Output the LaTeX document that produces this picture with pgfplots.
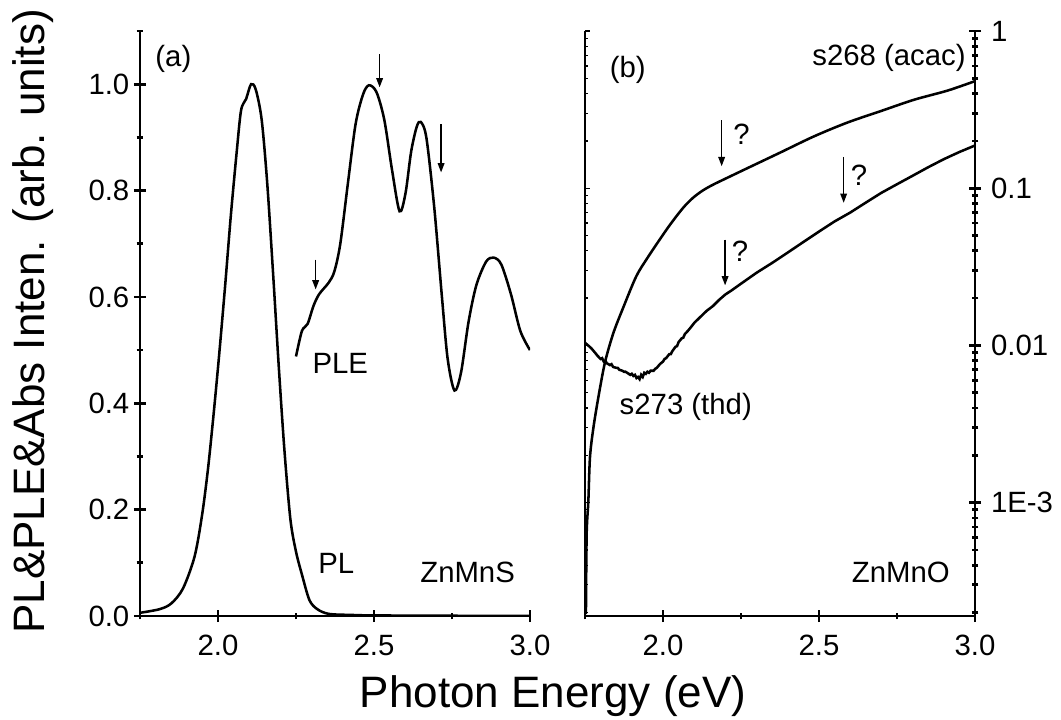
\documentclass[border=0pt]{standalone}
\usepackage{fontspec}
\setmainfont{Liberation Sans}
\usepackage{pgfplots}
\pgfplotsset{compat=1.18}
\usetikzlibrary{arrows.meta}

\newcommand{\lblfont}{\fontsize{22}{26}\selectfont}
\newcommand{\tckfont}{\fontsize{22}{26}\selectfont}
\newcommand{\axfont}{\fontsize{33}{40}\selectfont}

\tikzset{arr/.style={-{Triangle[length=7pt,width=5pt]}, line width=1.1pt}}
\pgfplotsset{
  panel/.style={
    scale only axis, width=292.5pt, height=438.75pt,
    xmin=1.75, xmax=3.0,
    tick style={line width=2pt, black},
    tick align=outside,
    major tick length=9pt, minor tick length=5pt,
    xtick={2,2.5,3}, xticklabels={2.0,2.5,3.0},
    minor xtick={1.75,2.25,2.75},
    tick label style={font=\tckfont},
    xticklabel style={yshift=-6pt},
  },
  nolinearrows/.style={
    axis line style={line width=2.2pt},
    x axis line style={-}, y axis line style={-},
  },
  curve/.style={black, line width=1.9pt, mark=none},
}

\begin{document}
\begin{tikzpicture}

% (a) PL and PLE of ZnMnS
\begin{axis}[panel, name=L,
    ymin=0, ymax=1.1,
    axis x line=bottom, axis y line=left, nolinearrows,
    ytick={0,0.2,0.4,0.6,0.8,1}, yticklabels={0.0,0.2,0.4,0.6,0.8,1.0},
    minor ytick={0.1,0.3,0.5,0.7,0.9,1.1}]
\addplot[curve, smooth] table {
x y
1.750 0.006
1.814 0.013
1.851 0.024
1.888 0.052
1.925 0.112
1.949 0.190
1.968 0.277
1.986 0.380
2.004 0.493
2.023 0.622
2.041 0.752
2.060 0.873
2.074 0.951
2.090 0.972
2.106 1.000
2.121 0.990
2.140 0.933
2.158 0.812
2.177 0.640
2.195 0.467
2.213 0.311
2.232 0.182
2.250 0.121
2.269 0.078
2.293 0.030
2.318 0.013
2.355 0.004
2.428 0.002
2.527 0.001
3.000 0.000
};
\addplot[curve, smooth] table {
x y
2.250 0.488
2.269 0.536
2.287 0.549
2.306 0.583
2.324 0.605
2.355 0.627
2.373 0.648
2.392 0.700
2.416 0.812
2.441 0.925
2.465 0.981
2.484 0.998
2.508 0.985
2.533 0.933
2.558 0.838
2.582 0.761
2.601 0.795
2.619 0.873
2.637 0.920
2.650 0.929
2.668 0.899
2.693 0.769
2.717 0.605
2.736 0.484
2.758 0.424
2.779 0.458
2.803 0.553
2.828 0.622
2.859 0.666
2.883 0.674
2.908 0.661
2.939 0.605
2.969 0.536
3.000 0.500
};
\draw[arr] (axis cs:2.313,0.670) -- (axis cs:2.313,0.614);
\draw[arr] (axis cs:2.518,1.056) -- (axis cs:2.518,0.994);
\draw[arr] (axis cs:2.715,0.925) -- (axis cs:2.715,0.834);
\node[font=\lblfont] at (axis cs:1.857,1.048) {(a)};
\node[font=\lblfont] at (axis cs:2.392,0.475) {PLE};
\node[font=\lblfont] at (axis cs:2.379,0.099) {PL};
\node[font=\lblfont] at (axis cs:2.800,0.082) {ZnMnS};
\end{axis}

% (b) absorption of ZnMnO, log scale on the right
\begin{axis}[panel, name=R, at={(333.75pt,0)}, anchor=south west,
    ymode=log, ymin=1.9e-4, ymax=1,
    axis x line=bottom, axis y line=right, nolinearrows,
    ytick={1e-3,1e-2,1e-1,1}, yticklabels={1E-3,0.01,0.1,1},
    yticklabel style={xshift=4pt},
    minor ytick={2e-4,3e-4,4e-4,5e-4,6e-4,7e-4,8e-4,9e-4,
                 2e-3,3e-3,4e-3,5e-3,6e-3,7e-3,8e-3,9e-3,
                 0.02,0.03,0.04,0.05,0.06,0.07,0.08,0.09,
                 0.2,0.3,0.4,0.5,0.6,0.7,0.8,0.9}]
% s268 (acac)
\addplot[curve, smooth] table {
x y
1.7530 0.000195
1.7553 0.00063
1.7607 0.00102
1.7660 0.00195
1.7770 0.0030
1.7930 0.0047
1.8140 0.0078
1.8410 0.0120
1.8730 0.0175
1.9142 0.0275
1.9500 0.0360
1.9893 0.0471
2.0250 0.0595
2.0644 0.0750
2.0950 0.0865
2.1250 0.0960
2.1550 0.1040
2.1880 0.1120
2.2680 0.1334
2.3760 0.1687
2.4830 0.2133
2.5900 0.2612
2.6970 0.3090
2.8050 0.3656
2.9120 0.4178
3.0000 0.4800
};
% s273 (thd)
\addplot[curve] table {
x y
1.750 0.0104
1.760 0.0100
1.770 0.0096
1.780 0.0091
1.790 0.0086
1.800 0.0082
1.805 0.0083
1.810 0.0079
1.815 0.0080
1.820 0.0077
1.830 0.0075
1.835 0.0076
1.840 0.0073
1.850 0.0072
1.855 0.0072
1.860 0.0070
1.870 0.0069
1.875 0.0068
1.880 0.0068
1.890 0.0066
1.895 0.0065
1.900 0.0066
1.905 0.0064
1.910 0.0065
1.915 0.0062
1.920 0.0063
1.925 0.0061
1.930 0.0065
1.935 0.0063
1.940 0.0067
1.945 0.0066
1.950 0.0068
1.955 0.0067
1.960 0.0069
1.970 0.0069
1.975 0.0071
1.980 0.0072
1.990 0.0076
2.000 0.0079
2.005 0.0082
2.010 0.0083
2.020 0.0088
2.025 0.0088
2.030 0.0092
2.040 0.0098
2.045 0.0099
2.050 0.0105
2.060 0.0111
2.065 0.0112
2.070 0.0118
2.080 0.0124
2.090 0.0131
2.100 0.0139
2.120 0.0152
2.140 0.0166
2.160 0.0178
2.180 0.0195
2.200 0.0211
2.220 0.0224
2.250 0.0247
2.300 0.0290
2.350 0.0335
2.400 0.0390
2.450 0.0455
2.500 0.0530
2.550 0.0615
2.600 0.0700
2.650 0.0810
2.700 0.0935
2.750 0.1060
2.800 0.1200
2.850 0.1360
2.900 0.1530
2.950 0.1700
3.000 0.1870
};
\draw[arr] (axis cs:2.188,0.270) -- (axis cs:2.188,0.138);
\draw[arr] (axis cs:2.579,0.158) -- (axis cs:2.579,0.0807);
\draw[arr] (axis cs:2.199,0.0471) -- (axis cs:2.199,0.0241);
\node[font=\lblfont] at (axis cs:2.252,0.221) {?};
\node[font=\lblfont] at (axis cs:2.628,0.121) {?};
\node[font=\lblfont] at (axis cs:2.247,0.0399) {?};
\node[font=\lblfont] at (axis cs:1.887,0.565) {(b)};
\node[font=\lblfont, anchor=east] at (axis cs:2.985,0.673) {s268 (acac)};
\node[font=\lblfont] at (axis cs:2.073,0.00407) {s273 (thd)};
\node[font=\lblfont] at (axis cs:2.762,0.00036) {ZnMnO};
\end{axis}

% small inward ticks on the left edge of (b)
\begin{axis}[scale only axis, width=292.5pt, height=438.75pt,
    at={(333.75pt,0)}, anchor=south west,
    xmin=1.75, xmax=3.0, ymode=log, ymin=1.9e-4, ymax=1,
    axis x line=none, axis y line=left, nolinearrows,
    ytick={1e-3,1e-2,1e-1,1}, yticklabels={},
    minor ytick={2e-4,3e-4,4e-4,5e-4,6e-4,7e-4,8e-4,9e-4,
                 2e-3,3e-3,4e-3,5e-3,6e-3,7e-3,8e-3,9e-3,
                 0.02,0.03,0.04,0.05,0.06,0.07,0.08,0.09,
                 0.2,0.3,0.4,0.5,0.6,0.7,0.8,0.9},
    tick align=inside, major tick length=4pt, minor tick length=2.5pt,
    tick style={line width=1pt, black}]
\end{axis}

\node[font=\axfont, anchor=base] at (309.75pt,-68.25pt) {Photon Energy (eV)};
\node[font=\axfont, rotate=90, anchor=base] at (-71.25pt,220.9pt) {PL\&PLE\&Abs Inten. (arb. units)};

\pgfresetboundingbox
\path (-105pt,-77.25pt) rectangle (690.75pt,462pt);
\end{tikzpicture}
\end{document}
